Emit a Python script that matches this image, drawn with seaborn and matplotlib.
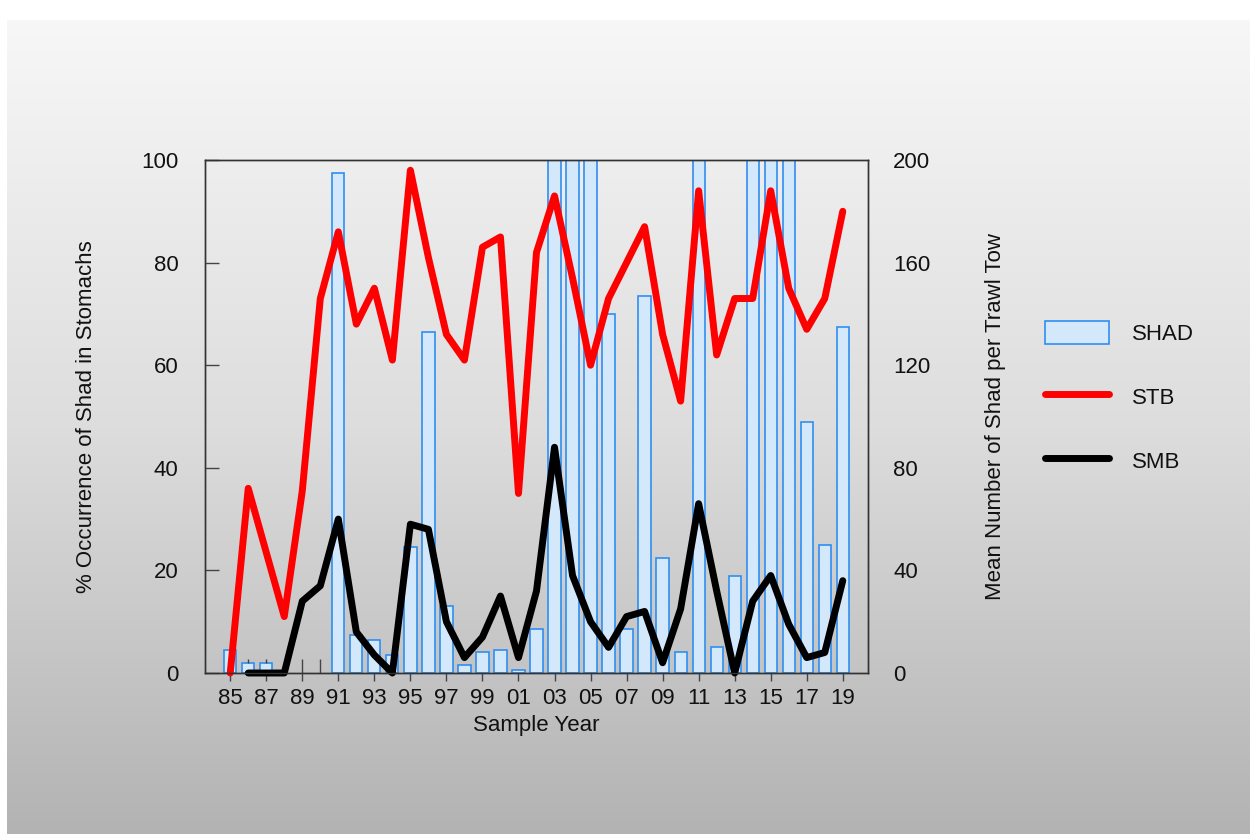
import numpy as np
import pandas as pd
import matplotlib
matplotlib.use("Agg")
import matplotlib.pyplot as plt
from matplotlib.patches import Patch
from matplotlib.lines import Line2D
import seaborn as sns

sns.set_style("ticks")
plt.rcParams['font.family'] = ['Liberation Sans', 'DejaVu Sans']

# sample years 1985..2019
years = list(range(1985, 2020))
year_labels = ['85', '87', '89', '91', '93', '95', '97', '99', '01', '03',
               '05', '07', '09', '11', '13', '15', '17', '19']

# mean number of shad per trawl tow (right axis, bars clipped at 200)
shad = [9, 4, 4, np.nan, np.nan, np.nan, 195, 15, 13, 7,
        49, 133, 26, 3, 8, 9, 1, 17, 260, 240,
        230, 140, 17, 147, 45, 8, 250, 10, 38, 230,
        270, 220, 98, 50, 135]

# % occurrence of shad in stomachs (left axis)
stb = [0, 36, 23.5, 11, 35.5, 73, 86, 68, 75, 61,
       98, 81, 66, 61, 83, 85, 35, 82, 93, 77,
       60, 73, 80, 87, 66, 53, 94, 62, 73, 73,
       94, 75, 67, 73, 90]
smb = [np.nan, 0, 0, 0, 14, 17, 30, 8, 3.5, 0,
       29, 28, 10, 3, 7, 15, 3, 16, 44, 19,
       10, 5, 11, 12, 2, 12.5, 33, 16, 0, 14,
       19, 9.5, 3, 4, 18]

# small whiskers seen on the early bars
whisker_years = [1986, 1987, 1989, 1990]
whisker_lo = [4, 4, 0, 0]
whisker_hi = [5.5, 5.5, 5.5, 5.5]

df = pd.DataFrame({'year': years, 'SHAD': shad, 'STB': stb, 'SMB': smb})

W, H = 1250, 834
fig = plt.figure(figsize=(12.5, 8.34), dpi=100, facecolor='white')

# grey gradient background
bg = fig.add_axes([7 / W, 0, 1 - 7 / W, 1 - 20 / H])
grad = np.linspace(0, 1, 256).reshape(-1, 1)
bg.imshow(grad, aspect='auto', cmap=matplotlib.colors.LinearSegmentedColormap.from_list(
    'g', ['#f7f7f7', '#dddddd', '#b3b3b3']), extent=[0, 1, 0, 1])
bg.set_axis_off()
bg.set_zorder(0)

left, right, top, bottom = 205, 868, 160, 673
ax = fig.add_axes([left / W, 1 - bottom / H, (right - left) / W, (bottom - top) / H])
ax2 = ax.twinx()
ax.set_zorder(3)
ax2.set_zorder(2)
ax.patch.set_visible(False)
ax2.patch.set_visible(False)

bars = df.dropna(subset=['SHAD'])
sns.barplot(data=bars, x='year', y='SHAD', native_scale=True, width=0.68,
            color='#d4e8fc', edgecolor='#2f8ef0', linewidth=1.2,
            saturation=1, errorbar=None, ax=ax2)
ax2.vlines(whisker_years, whisker_lo, whisker_hi, color='#444444', linewidth=1)

sns.lineplot(data=df, x='year', y='STB', color='#ff0000', linewidth=5,
             solid_joinstyle='round', clip_on=False, ax=ax)
sns.lineplot(data=df, x='year', y='SMB', color='#000000', linewidth=5,
             solid_joinstyle='round', clip_on=False, ax=ax)

ax.set_xlim(1983.6, 2020.4)
ax.set_ylim(0, 100)
ax2.set_ylim(0, 200)

ax.set_xticks(years[::2])
ax.set_xticklabels(year_labels)
ax.set_yticks([0, 20, 40, 60, 80, 100])
ax2.set_yticks([0, 40, 80, 120, 160, 200])

ax.tick_params(axis='x', direction='out', length=6, width=1, color='#444444',
               pad=5, labelsize=16, labelcolor='#111111')
ax.tick_params(axis='y', direction='in', length=10, width=1, color='#444444',
               pad=19, labelsize=16, labelcolor='#111111')
ax2.tick_params(axis='y', length=0, pad=18, labelsize=16, labelcolor='#111111')

for a in (ax, ax2):
    for s in a.spines.values():
        s.set_visible(True)
        s.set_color('#333333')
        s.set_linewidth(1)

ax.set_xlabel('Sample Year', fontsize=16, color='#111111', labelpad=4)
ax.set_ylabel('% Occurrence of Shad in Stomachs', fontsize=16, color='#111111')
ax2.set_ylabel('Mean Number of Shad per Trawl Tow', fontsize=16, color='#111111')
ax.yaxis.set_label_coords((97 - left) / (right - left), 0.5)
ax2.yaxis.set_label_coords((985 - left) / (right - left), 0.5)

handles = [Patch(facecolor='#d4e8fc', edgecolor='#2f8ef0', linewidth=1.2),
           Line2D([], [], color='#ff0000', linewidth=5),
           Line2D([], [], color='#000000', linewidth=5)]
fig.legend(handles, ['SHAD', 'STB', 'SMB'], loc='upper left',
           bbox_to_anchor=(1045 / W, 1 - 321 / H), frameon=False, fontsize=16,
           handlelength=2.9, handleheight=1.2, handletextpad=1.0,
           labelspacing=1.8, borderpad=0, borderaxespad=0, labelcolor='#111111')

fig.savefig('out.png', dpi=100, facecolor=fig.get_facecolor())
